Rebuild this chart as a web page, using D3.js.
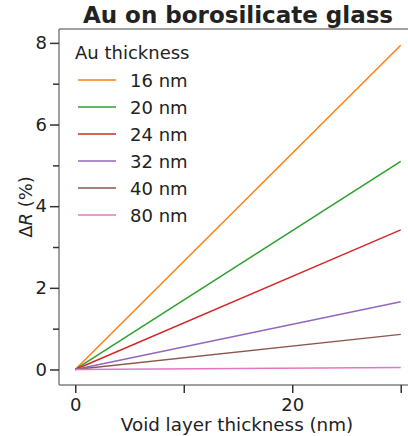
<!DOCTYPE html>
<html><head><meta charset="utf-8">
<script src="https://cdn.jsdelivr.net/npm/d3@7"></script>
<style>body{margin:0;background:#fff;} svg{display:block;font-family:"DejaVu Sans",sans-serif;}</style>
</head><body>
<svg id="c" width="408" height="436"></svg>
<script>
const seriesNames = ["16 nm","20 nm","24 nm","32 nm","40 nm","80 nm"];
const seriesColors = ["#ff7f0e","#2ca02c","#d62728","#9467bd","#8c564b","#e377c2"];
const voidThickness = [0, 30];
const dR16 = [0, 7.94];
const dR20 = [0, 5.10];
const dR24 = [0, 3.42];
const dR32 = [0, 1.66];
const dR40 = [0, 0.86];
const dR80 = [0, 0.05];
const seriesValues = [dR16, dR20, dR24, dR32, dR40, dR80];
const xMajorTicks = [0, 20];
const xMinorTicks = [10, 30];
const yMajorTicks = [0, 2, 4, 6, 8];
const yMinorTicks = [1, 3, 5, 7];

const svg = d3.select("#c");
const L = 59, R = 417, T = 29, B = 385;
const x = d3.scaleLinear().domain([-1.5, 31.5]).range([L, R]);
const y = d3.scaleLinear().domain([-0.38, 8.34]).range([B, T]);

// spines
svg.append("line").attr("x1",L).attr("x2",L).attr("y1",T).attr("y2",B).attr("stroke","#808080").attr("stroke-width",1.5);
svg.append("line").attr("x1",L).attr("x2",R).attr("y1",B).attr("y2",B).attr("stroke","#808080").attr("stroke-width",1.5);
svg.append("line").attr("x1",L).attr("x2",R).attr("y1",T).attr("y2",T).attr("stroke","#808080").attr("stroke-width",1.5);
svg.append("line").attr("x1",R).attr("x2",R).attr("y1",T).attr("y2",B).attr("stroke","#808080").attr("stroke-width",1.5);

// axes
const xAx = svg.append("g").attr("transform",`translate(0,${B})`)
  .call(d3.axisBottom(x).tickValues(xMajorTicks).tickSize(8).tickPadding(5).tickFormat(d3.format("d")));
const xAxm = svg.append("g").attr("transform",`translate(0,${B})`)
  .call(d3.axisBottom(x).tickValues(xMinorTicks).tickSize(8).tickFormat(""));
const yAx = svg.append("g").attr("transform",`translate(${L},0)`)
  .call(d3.axisLeft(y).tickValues(yMajorTicks).tickSize(9).tickPadding(3).tickFormat(d3.format("d")));
const yAxm = svg.append("g").attr("transform",`translate(${L},0)`)
  .call(d3.axisLeft(y).tickValues(yMinorTicks).tickSize(6).tickFormat(""));
[xAx,xAxm,yAx,yAxm].forEach(g=>{
  g.select(".domain").remove();
  g.selectAll(".tick line").attr("stroke","#333").attr("stroke-width",1.5);
  g.selectAll(".tick text").attr("fill","#222").style("font-size","18px").style("font-family","DejaVu Sans");
});

// lines
const line = d3.line().x((d,i)=>x(voidThickness[i])).y(d=>y(d));
seriesValues.forEach((vals,k)=>{
  svg.append("path").datum(vals).attr("d",line).attr("fill","none")
    .attr("stroke",seriesColors[k]).attr("stroke-width",1.5);
});

// title
svg.append("text").attr("x",(L+R)/2).attr("y",23).attr("text-anchor","middle")
  .style("font-size","23px").style("font-weight","bold").attr("fill","#222").text("Au on borosilicate glass");
// x label
svg.append("text").attr("x",(L+R)/2 - 1).attr("y",431).attr("text-anchor","middle")
  .style("font-size","18.3px").attr("fill","#222").text("Void layer thickness (nm)");
// y label
const yl = svg.append("text").attr("transform",`translate(32,${(T+B)/2}) rotate(-90)`).attr("text-anchor","middle")
  .style("font-size","18px").attr("fill","#222");
yl.append("tspan").text("Δ");
yl.append("tspan").style("font-style","italic").text("R");
yl.append("tspan").text(" (%)");

// legend
const lg = svg.append("g");
lg.append("text").attr("x",75).attr("y",59).style("font-size","18px").attr("fill","#222").text("Au thickness");
seriesNames.forEach((n,k)=>{
  const yy = 80 + k*27;
  lg.append("line").attr("x1",78).attr("x2",116).attr("y1",yy).attr("y2",yy)
    .attr("stroke",seriesColors[k]).attr("stroke-width",1.5);
  lg.append("text").attr("x",130).attr("y",yy+6.5).style("font-size","18px").attr("fill","#222").text(n);
});
</script>
</body></html>
